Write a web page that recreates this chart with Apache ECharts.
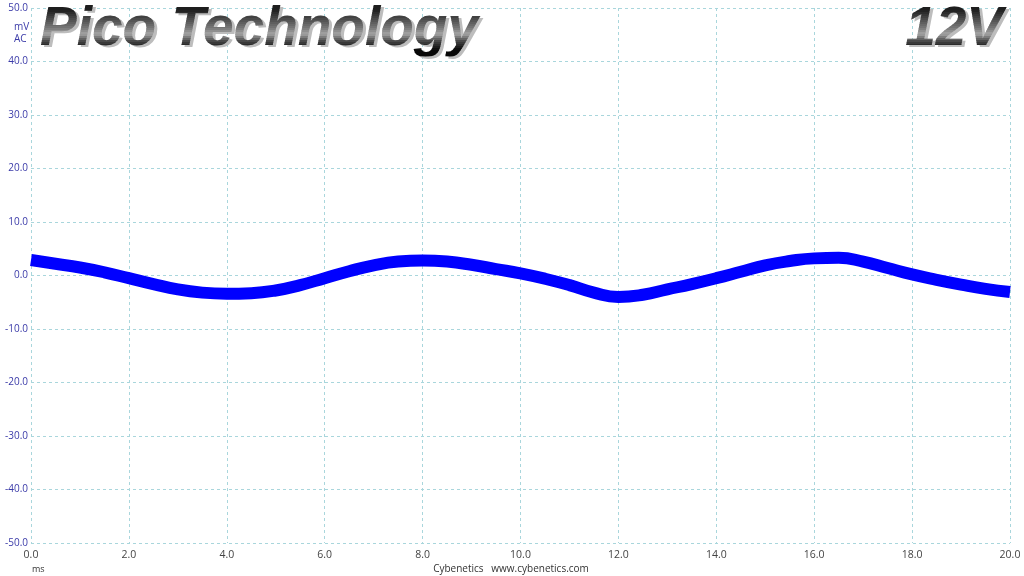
<!DOCTYPE html>
<html><head><meta charset="utf-8">
<script src="https://cdn.jsdelivr.net/npm/echarts@6/dist/echarts.min.js"></script>
<style>html,body{margin:0;padding:0;background:#fff}#c{width:1024px;height:576px}</style>
</head><body><div id="c"></div>
<script>
var timeMs = [0,0.5,1,1.5,2,2.5,3,3.5,4,4.5,5,5.5,6,6.5,7,7.5,8,8.5,9,9.5,10,10.5,11,11.5,12,12.5,13,13.5,14,14.5,15,15.5,16,16.5,17,17.5,18,18.5,19,19.5,20];
var rippleMv = [2.9,2.2,1.5,0.6,-0.5,-1.6,-2.6,-3.2,-3.4,-3.3,-2.8,-1.8,-0.5,0.8,1.9,2.6,2.8,2.6,2.0,1.2,0.4,-0.6,-1.8,-3.2,-4.0,-3.6,-2.6,-1.6,-0.5,0.7,1.9,2.7,3.2,3.3,2.6,1.4,0.2,-0.8,-1.7,-2.5,-3.1];
var titleLeft = 'Pico Technology';
var titleRight = '12V';
var footer = 'Cybenetics   www.cybenetics.com';

var chart = echarts.init(document.getElementById('c'));
var lblFont = '"Open Sans", "DejaVu Sans", sans-serif';
var titleFont = 'italic bold 55px "Liberation Sans", Arial, sans-serif';
chart.setOption({
  animation:false,
  grid:{left:31,right:14,top:8,bottom:33},
  xAxis:{type:'value',min:0,max:20,interval:2,
    axisLine:{show:false},axisTick:{show:false},
    axisLabel:{formatter:function(v){return v.toFixed(1);},color:'#444',fontSize:10.5,fontFamily:lblFont,margin:7,showMaxLabel:true,showMinLabel:true},
    splitLine:{show:true,lineStyle:{color:'#a9d6dc',type:[3,3],width:1}}},
  yAxis:{type:'value',min:-50,max:50,interval:10,
    axisLine:{show:false},axisTick:{show:false},
    axisLabel:{formatter:function(v){return v.toFixed(1);},color:'#3a3aa8',fontSize:10,fontFamily:lblFont,margin:3},
    splitLine:{show:true,lineStyle:{color:'#a9d6dc',type:[3,3],width:1}}},
  series:[{type:'line',data:timeMs.map(function(t,i){return [t,rippleMv[i]];}),
    smooth:0.5,showSymbol:false,lineStyle:{color:'#0000ff',width:12,cap:'butt'},z:3}],
  graphic:[
    {type:'text',x:14,y:22,style:{text:'mV',fill:'#3a3aa8',font:'10px '+lblFont}},
    {type:'text',x:14,y:34,style:{text:'AC',fill:'#3a3aa8',font:'10px '+lblFont}},
    {type:'text',x:32,y:565,style:{text:'ms',fill:'#333',font:'9px '+lblFont}},
    {type:'text',x:511,y:569,style:{text:footer,fill:'#333',font:'10px '+lblFont,textAlign:'center',textVerticalAlign:'middle'}}
  ]
});

// Metallic title: shadow + banded shading (clip bands emulate the vertical gradient)
var zr = chart.getZr();
var stops = [[0,[30,30,30]],[0.45,[120,120,120]],[0.6,[165,165,165]],[0.78,[70,70,70]],[1,[8,8,8]]];
function colAt(t){
  for (var i=1;i<stops.length;i++){ if (t<=stops[i][0]){ var a=stops[i-1],b=stops[i],f=(t-a[0])/(b[0]-a[0]);
    return 'rgb('+[0,1,2].map(function(k){return Math.round(a[1][k]+(b[1][k]-a[1][k])*f);}).join(',')+')'; } }
  return 'rgb(8,8,8)';
}
function addTitle(text, x, align){
  zr.add(new echarts.graphic.Text({x:x+3,y:32,z:10,style:{text:text,fill:'#bdbdbd',font:titleFont,align:align,verticalAlign:'middle'}}));
  var y0=4, y1=56, step=2;
  for (var y=y0; y<y1; y+=step){
    var t = Math.min(1, Math.max(0, (y+step/2-10)/40));
    var el = new echarts.graphic.Text({x:x,y:30,z:11,style:{text:text,fill:colAt(t),font:titleFont,align:align,verticalAlign:'middle'}});
    el.setClipPath(new echarts.graphic.Rect({shape:{x:-600,y:y-30,width:1200,height:step+0.6}}));
    zr.add(el);
  }
}
addTitle(titleLeft, 40, 'left');
addTitle(titleRight, 1003, 'right');
</script></body></html>
